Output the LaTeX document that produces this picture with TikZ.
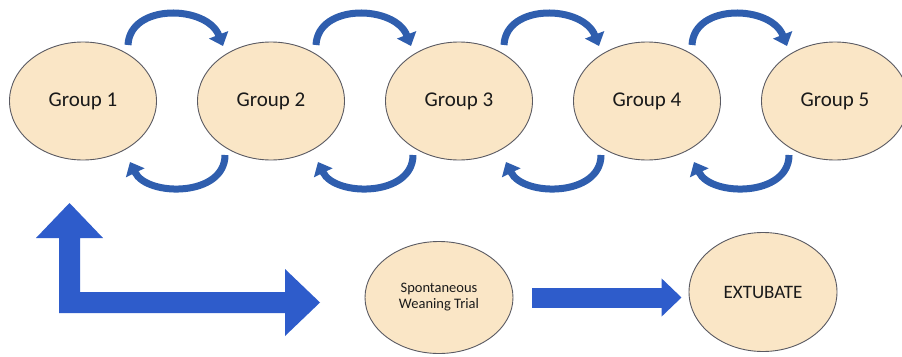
\documentclass[tikz,border=0pt]{standalone}
\usepackage{fontspec}
\setmainfont{Carlito}
\usetikzlibrary{arrows.meta,calc,shapes.geometric}
\definecolor{fillbeige}{HTML}{FAE6C6}
\definecolor{edgegray}{HTML}{5A5A62}
\definecolor{curveblue}{HTML}{2F5EAE}
\definecolor{bigblue}{HTML}{2E5CCB}
\definecolor{txt}{HTML}{1A1A1A}
\tikzset{
  grp/.style={ellipse, draw=edgegray, line width=0.9pt, fill=fillbeige,
    minimum width=147pt, minimum height=118pt, inner sep=0pt,
    text=txt, font=\fontsize{21}{24}\selectfont},
  small/.style={ellipse, draw=edgegray, line width=0.9pt, fill=fillbeige,
    minimum width=148pt, inner sep=0pt, text=txt, align=center},
  curvearrow/.style={draw=curveblue, line width=7pt,
    -{Triangle[length=12pt,width=20pt]}},
  bigarrow/.style={draw=bigblue, line width=20pt,
    -{Triangle[length=20pt,width=37pt]}}
}
\begin{document}
\begin{tikzpicture}[x=1pt,y=-1pt]
\useasboundingbox (0,0) rectangle (902,356);
\clip (0,0) rectangle (902,356);
\fill[white] (0,0) rectangle (902,356);

\node[grp] (g1) at (83,101) {Group 1};
\node[grp] (g2) at (271,101) {Group 2};
\node[grp] (g3) at (459,101) {Group 3};
\node[grp] (g4) at (647,101) {Group 4};
\node[grp] (g5) at (835,101) {Group 5};

\node[small, minimum height=112pt, font=\fontsize{14.5}{16}\selectfont]
  (sw) at (439,297.5) {Spontaneous\\Weaning Trial};
\node[small, minimum height=119pt, font=\fontsize{19}{22}\selectfont]
  (ext) at (763,292) {EXTUBATE};

% curved arrows between groups
\foreach \a/\b in {g1/g2,g2/g3,g3/g4,g4/g5}{
  \coordinate (m) at ($(\a)!0.5!(\b)$);
  \draw[curvearrow] ($(m)+(-49,-56)$) .. controls ($(m)+(-47,-98)$) and ($(m)+(30,-96)$) .. ($(m)+(46,-55)$);
  \draw[curvearrow] ($(m)+(48,54)$) .. controls ($(m)+(48,96)$) and ($(m)+(-30,96)$) .. ($(m)+(-47,61)$);
}

% L-shaped arrow
\fill[bigblue] (59,313) -- (285,313) -- (285,336) -- (320,302.5) -- (285,269)
  -- (285,292) -- (80,292) -- (80,238) -- (103,238) -- (69.5,203) -- (36,238)
  -- (59,238) -- cycle;

% straight arrow
\draw[bigarrow] ($(sw.east)+(19,0)$) -- ($(sw.east -| ext.west)+(-7,0)$);
\end{tikzpicture}
\end{document}
